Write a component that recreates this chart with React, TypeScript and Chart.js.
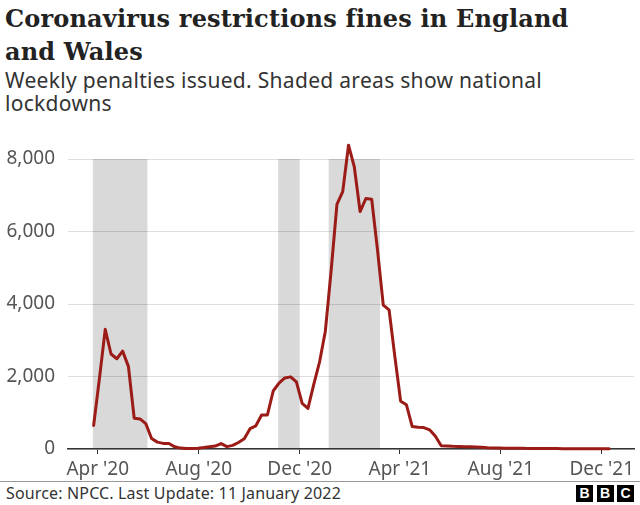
import React, { useEffect, useRef } from "react";
import { Chart, registerables } from "chart.js";
Chart.register(...registerables);

// Weekly penalties issued (first week starting 27 Mar 2020)
const weekStart = "2020-03-27";
const weeklyFines = [
  650, 1950, 3300, 2620, 2490, 2700, 2280, 850, 830, 700,
  290, 190, 155, 150, 60, 25, 15, 15, 20, 40,
  65, 80, 150, 65, 100, 180, 280, 560, 640, 940,
  940, 1600, 1820, 1960, 1990, 1850, 1260, 1120, 1780, 2400,
  3250, 4920, 6750, 7100, 8380, 7780, 6550, 6910, 6890, 5500,
  3970, 3840, 2550, 1320, 1220, 620, 600, 590, 530, 350,
  90, 85, 75, 70, 65, 60, 55, 45, 35, 30,
  25, 20, 20, 18, 18, 15, 15, 15, 12, 12,
  12, 10, 10, 10, 10, 10, 8, 8, 8, 8,
];

const tickDates = ["2020-04-01", "2020-08-01", "2020-12-01", "2021-04-01", "2021-08-01", "2021-12-01"];
const tickLabels = ["Apr '20", "Aug '20", "Dec '20", "Apr '21", "Aug '21", "Dec '21"];
const yTicks = [0, 2000, 4000, 6000, 8000];

const lockdownStarts = ["2020-03-26", "2020-11-05", "2021-01-05"];
const lockdownEnds = ["2020-05-31", "2020-12-01", "2021-03-08"];

const axisStart = "2020-02-25";
const axisEnd = "2022-01-09";

const REF = Date.UTC(2020, 3, 1);
function dayOf(s: string): number {
  const [y, m, d] = s.split("-").map(Number);
  return (Date.UTC(y, m - 1, d) - REF) / 86400000;
}

const shadePlugin = {
  id: "lockdownShade",
  beforeDraw(chart: any) {
    const { ctx, scales } = chart;
    const x = scales.x;
    const y = scales.y;
    ctx.save();
    ctx.fillStyle = "#d9d9d9";
    lockdownStarts.forEach((s, i) => {
      const x0 = x.getPixelForValue(dayOf(s));
      const x1 = x.getPixelForValue(dayOf(lockdownEnds[i]));
      const y0 = y.getPixelForValue(yTicks[yTicks.length - 1]);
      const y1 = y.getPixelForValue(0);
      ctx.fillRect(x0, y0, x1 - x0, y1 - y0);
    });
    ctx.restore();
  },
};

const SANS = "'Noto Sans', 'Open Sans', sans-serif";

function ChartCanvas() {
  const ref = useRef<HTMLCanvasElement | null>(null);
  useEffect(() => {
    if (!ref.current) return;
    const start = dayOf(weekStart);
    const points = weeklyFines.map((v, i) => ({ x: start + 7 * i, y: v }));
    const chart = new Chart(ref.current, {
      type: "line",
      data: {
        datasets: [
          {
            data: points,
            borderColor: "#9b1b17",
            borderWidth: 3,
            pointRadius: 0,
            tension: 0,
            fill: false,
            clip: false as any,
            borderJoinStyle: "round",
            borderCapStyle: "round",
          },
        ],
      },
      options: {
        animation: false,
        responsive: false,
        devicePixelRatio: 1,
        layout: { padding: { top: 29, right: 6, left: 0, bottom: 0 } },
        plugins: { legend: { display: false }, tooltip: { enabled: false } },
        scales: {
          x: {
            type: "linear",
            min: dayOf(axisStart),
            max: dayOf(axisEnd),
            afterBuildTicks: (a: any) => {
              a.ticks = tickDates.map((d) => ({ value: dayOf(d) }));
            },
            afterFit: (s: any) => {
              s.height = 31;
            },
            grid: { drawOnChartArea: false, drawTicks: true, tickLength: 5, color: "#333", lineWidth: 1 },
            border: { display: true, color: "#333", width: 1.5 },
            ticks: {
              padding: 4,
              color: "#555",
              font: { family: SANS, size: 19 },
              maxRotation: 0,
              autoSkip: false,
              callback: (_v: any, i: number) => tickLabels[i],
            },
          },
          y: {
            min: 0,
            max: 8000,
            afterBuildTicks: (a: any) => {
              a.ticks = yTicks.map((v) => ({ value: v }));
            },
            afterFit: (s: any) => {
              s.width = 68;
            },
            grid: { color: "rgba(0,0,0,0.13)", drawTicks: false, lineWidth: 1 },
            border: { display: false },
            ticks: {
              padding: 13,
              color: "#555",
              font: { family: SANS, size: 19 },
              callback: (v: any) => Number(v).toLocaleString("en-US"),
            },
          },
        },
      },
      plugins: [shadePlugin],
    });
    return () => chart.destroy();
  }, []);
  return (
    <canvas
      ref={ref}
      width={640}
      height={350}
      style={{ position: "absolute", left: 0, top: 130, width: 640, height: 350 }}
    />
  );
}

export default function App() {
  return (
    <div
      style={{
        position: "absolute",
        left: 0,
        top: 0,
        width: 640,
        height: 505,
        background: "#fff",
        overflow: "hidden",
      }}
    >
      <div
        style={{
          position: "absolute",
          left: 5,
          top: 2,
          fontFamily: "'DejaVu Serif', serif",
          fontWeight: "bold",
          fontSize: 24,
          letterSpacing: "0.17px",
          lineHeight: "33px",
          color: "#222",
          whiteSpace: "nowrap",
        }}
      >
        Coronavirus restrictions fines in England
        <br />
        and Wales
      </div>
      <div
        style={{
          position: "absolute",
          left: 5,
          top: 69,
          fontFamily: SANS,
          fontSize: 21,
          letterSpacing: "0.3px",
          lineHeight: "23.4px",
          color: "#333",
          whiteSpace: "nowrap",
        }}
      >
        Weekly penalties issued. Shaded areas show national
        <br />
        lockdowns
      </div>
      <ChartCanvas />
      <div style={{ position: "absolute", left: 0, top: 481, width: 640, height: 1, background: "#999" }} />
      <div
        style={{
          position: "absolute",
          left: 6,
          top: 484,
          fontFamily: SANS,
          fontSize: 16,
          letterSpacing: "0.15px",
          lineHeight: "18px",
          color: "#333",
          whiteSpace: "nowrap",
        }}
      >
        Source: NPCC. Last Update: 11 January 2022
      </div>
      {["B", "B", "C"].map((ch, i) => (
        <div
          key={i}
          style={{
            position: "absolute",
            left: 576 + i * 20.5,
            top: 485,
            width: 17,
            height: 17,
            background: "#000",
            color: "#fff",
            fontFamily: "'Liberation Sans', Arial, sans-serif",
            fontWeight: "bold",
            fontSize: 14,
            lineHeight: "17px",
            textAlign: "center",
          }}
        >
          {ch}
        </div>
      ))}
    </div>
  );
}
